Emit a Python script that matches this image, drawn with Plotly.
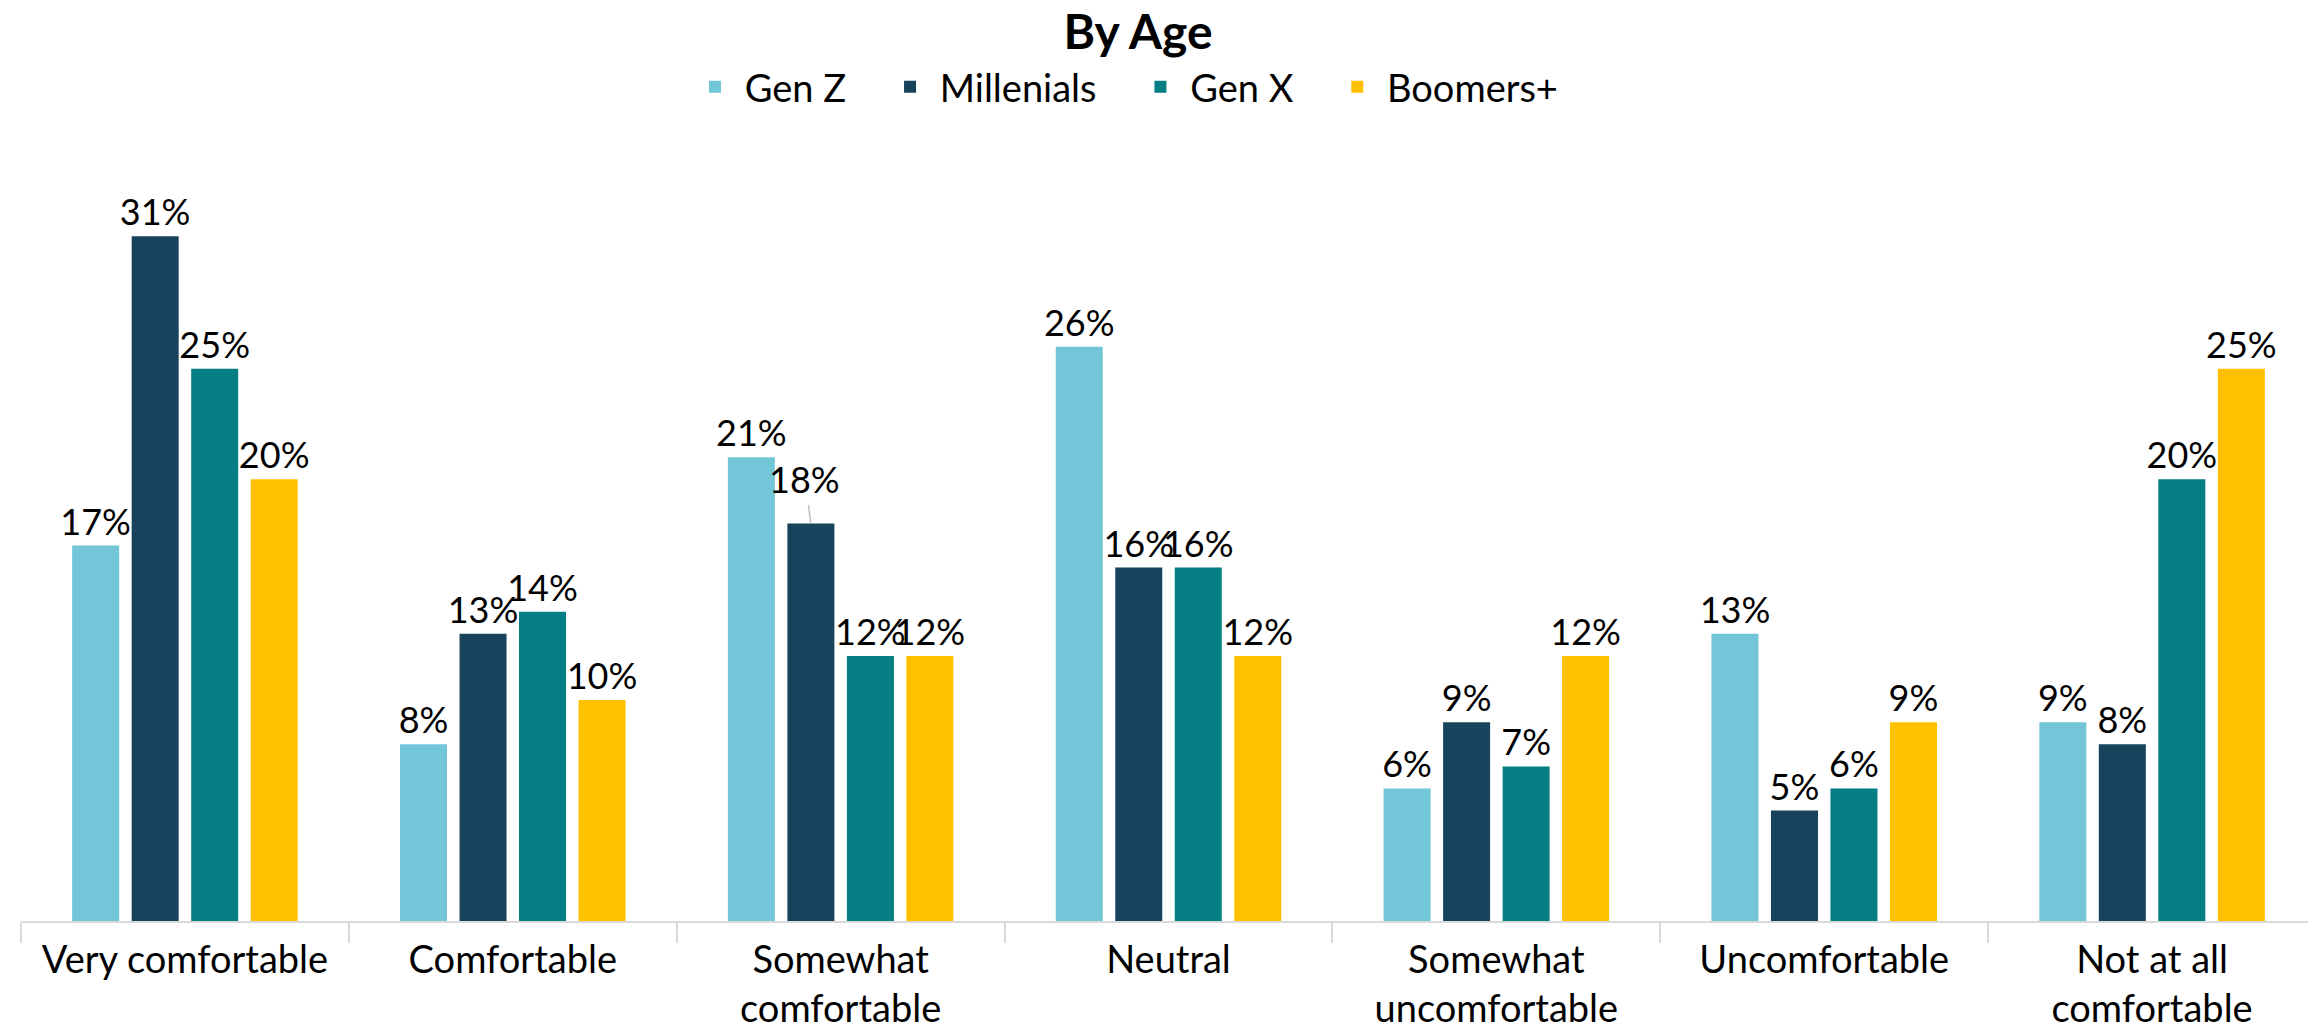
import plotly.graph_objects as go

categories = ["Very comfortable", "Comfortable", "Somewhat<br>comfortable", "Neutral",
              "Somewhat<br>uncomfortable", "Uncomfortable", "Not at all<br>comfortable"]
series_names = ["Gen Z", "Millenials", "Gen X", "Boomers+"]
gen_z = [17, 8, 21, 26, 6, 13, 9]
millenials = [31, 13, 18, 16, 9, 5, 8]
gen_x = [25, 14, 12, 16, 7, 6, 20]
boomers = [20, 10, 12, 12, 12, 9, 25]
colors = ["#72C6D8", "#17435C", "#057E84", "#FFC000"]

# label of Millenials / "Somewhat comfortable" is lifted with a leader line
leader_series, leader_cat = 1, 2

FONT = "Lato"
W, H = 2316, 1026
top, bottom, left, right = 162, 113, 13, 8
plot_h = H - top - bottom
plot_w = W - left - right
BARGAP, GROUPGAP = 0.274, 0.21
LABEL_SIZE = 36

NB = "\u00a0"
fig = go.Figure()
all_vals = [gen_z, millenials, gen_x, boomers]
n = len(series_names)
for i, (name, vals, col) in enumerate(zip(series_names, all_vals, colors)):
    label = NB + name + (NB * 4 if i < n - 1 else "")
    texts = [f"{v}%" for v in vals]
    if i == leader_series:
        texts[leader_cat] = ""
    fig.add_trace(go.Bar(
        name=label, x=categories, y=vals, marker=dict(color=col, line=dict(width=0)),
        text=texts, textposition="outside", cliponaxis=False,
        constraintext="none", hoverinfo="x+y",
        textfont=dict(family=FONT, size=LABEL_SIZE, color="#000000"),
    ))

# annotation with leader line for the lifted label
cat_w = plot_w / len(categories)
slot = cat_w * (1 - BARGAP) / n
xshift = (leader_series - (n - 1) / 2) * slot
lv = all_vals[leader_series][leader_cat]
fig.add_annotation(
    x=categories[leader_cat], y=lv, xref="x", yref="y", xshift=xshift,
    text=f"{lv}%", showarrow=True, arrowhead=0, arrowwidth=1.5, arrowcolor="#BFBFBF",
    ax=-6, ay=-44, standoff=0, startstandoff=2,
    font=dict(family=FONT, size=LABEL_SIZE, color="#000000"),
)

fig.update_layout(
    width=W, height=H,
    margin=dict(l=left, r=right, t=top, b=bottom, autoexpand=False),
    paper_bgcolor="white", plot_bgcolor="white",
    barmode="group", bargap=BARGAP, bargroupgap=GROUPGAP,
    title=dict(text="<b>By Age</b>", x=1130 / W, xanchor="center", y=1 - 7 / H, yanchor="top",
               yref="container", font=dict(family=FONT, size=48, color="#000000")),
    legend=dict(orientation="h", x=(1121 - left) / plot_w, xanchor="center",
                y=1 + (top - 79) / plot_h, yanchor="middle",
                font=dict(family=FONT, size=38, color="#000000"),
                traceorder="normal"),
    showlegend=True,
)
fig.update_xaxes(
    showline=True, linecolor="#D9D9D9", linewidth=2, automargin=False,
    ticks="outside", tickson="boundaries", ticklen=20, tickcolor="#D9D9D9", tickwidth=2,
    ticklabelstandoff=4,
    tickfont=dict(family=FONT, size=38, color="#000000"), showgrid=False,
)
fig.update_yaxes(visible=False, range=[0, 34], showgrid=False, automargin=False)

fig.write_html("out.html")
